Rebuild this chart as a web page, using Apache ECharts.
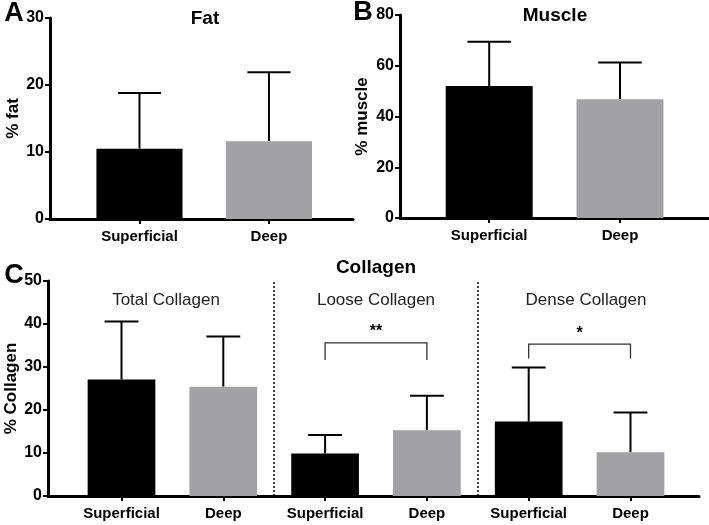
<!DOCTYPE html>
<html>
<head>
<meta charset="utf-8">
<script src="https://cdn.jsdelivr.net/npm/echarts@6/dist/echarts.min.js"></script>
<style>html,body{margin:0;padding:0;background:#fff;}#c{width:709px;height:525px;}</style>
</head>
<body>
<div id="c"></div>
<script>
// ---- data ----
const categories = ['Superficial', 'Deep'];
const fatMean = [10.5, 11.6];
const fatSD = [8.3, 10.3];
const muscleMean = [52.0, 46.8];
const muscleSD = [17.5, 14.5];
const collagenGroups = ['Total Collagen', 'Loose Collagen', 'Dense Collagen'];
const collagenCategories = ['Superficial', 'Deep', 'Superficial', 'Deep', 'Superficial', 'Deep'];
const collagenMean = [27.1, 25.4, 9.9, 15.3, 17.3, 10.2];
const collagenSD = [13.5, 11.7, 4.3, 8.0, 12.6, 9.2];
const fatTicks = [0, 10, 20, 30];
const muscleTicks = [0, 20, 40, 60, 80];
const collagenTicks = [0, 10, 20, 30, 40, 50];
// significance brackets: [fromIndex, toIndex, topValue, legValue, label]
const sigBrackets = [[2, 3, 35.6, 31.6, '**'], [4, 5, 35.3, 32.0, '*']];

// ---- styles ----
const FONT = "'Liberation Sans', Arial, Helvetica, sans-serif";
const palette = ['#000000', '#a2a2a6'];
const BAR_FRAC = 0.665;

function barItem(params, api) {
  const x = api.value(0), m = api.value(1), sd = api.value(2);
  const base = api.coord([x, 0]);
  const top = api.coord([x, m]);
  const err = api.coord([x, m + sd]);
  const w = api.size([BAR_FRAC, 0])[0];
  const color = palette[params.dataIndex % 2];
  return {
    type: 'group',
    children: [
      { type: 'line', z2: 1, shape: { x1: top[0], y1: top[1], x2: top[0], y2: err[1] }, style: { stroke: '#000', lineWidth: 2 } },
      { type: 'line', z2: 1, shape: { x1: top[0] - w / 4, y1: err[1], x2: top[0] + w / 4, y2: err[1] }, style: { stroke: '#000', lineWidth: 2 } },
      { type: 'rect', z2: 2, shape: { x: base[0] - w / 2, y: top[1], width: w, height: base[1] - top[1] }, style: { fill: color } }
    ]
  };
}

function bracketItem(params, api) {
  const a = api.value(0), b = api.value(1), t = api.value(2), l = api.value(3);
  const p1 = api.coord([a, l]), p2 = api.coord([a, t]), p3 = api.coord([b, t]), p4 = api.coord([b, l]);
  return {
    type: 'group',
    children: [
      { type: 'polyline', shape: { points: [p1, p2, p3, p4] }, style: { stroke: '#333', lineWidth: 1.3, fill: null } },
      { type: 'text', x: (p2[0] + p3[0]) / 2, y: p2[1] - 3,
        style: { text: sigBrackets[params.dataIndex][4], font: 'bold 16px ' + FONT, fill: '#000', align: 'center', verticalAlign: 'bottom', textAlign: 'center', textVerticalAlign: 'bottom' } }
    ]
  };
}

function yAxisCfg(gi, ticks, name, gap) {
  return {
    type: 'value', gridIndex: gi, min: ticks[0], max: ticks[ticks.length - 1],
    interval: ticks[1] - ticks[0],
    name: name, nameLocation: 'middle', nameGap: gap, nameRotate: 90, nameMoveOverlap: false,
    nameTextStyle: { fontFamily: FONT, fontWeight: 'bold', fontSize: 17, color: '#000' },
    axisLine: { show: true, onZero: false, lineStyle: { color: '#000', width: 3 } },
    axisTick: { show: true, length: 5, lineStyle: { color: '#000', width: 2 } },
    axisLabel: { fontFamily: FONT, fontWeight: 'bold', fontSize: 16, color: '#000', margin: 6 },
    splitLine: { show: false }
  };
}
function xAxisCfg(gi, cats, min, max) {
  const idx = cats.map((c, i) => i);
  return {
    type: 'value', gridIndex: gi, min: min, max: max,
    axisLine: { show: true, onZero: false, lineStyle: { color: '#000', width: 3 } },
    axisTick: { show: true, customValues: idx, length: 5, lineStyle: { color: '#000', width: 2 } },
    axisLabel: { customValues: idx, formatter: v => cats[Math.round(v)], fontFamily: FONT, fontWeight: 'bold', fontSize: 15, color: '#000', margin: 10 },
    splitLine: { show: false }
  };
}

const txt = (t, x, y, size, weight, color) => ({
  type: 'text', x: x, y: y, z: 100,
  style: { text: t, font: weight + ' ' + size + 'px ' + FONT, fill: color || '#000', align: 'center', verticalAlign: 'middle', textAlign: 'center', textVerticalAlign: 'middle' }
});

const chart = echarts.init(document.getElementById('c'));
chart.setOption({
  animation: false,
  backgroundColor: '#fff',
  grid: [
    { left: 50, top: 18, width: 303, height: 201, containLabel: false, outerBoundsMode: 'none' },
    { left: 400, top: 15, width: 308, height: 203, containLabel: false, outerBoundsMode: 'none' },
    { left: 48, top: 281, width: 651, height: 215, containLabel: false, outerBoundsMode: 'none' }
  ],
  xAxis: [
    xAxisCfg(0, categories, -0.691, 1.649),
    xAxisCfg(1, categories, -0.682, 1.673),
    xAxisCfg(2, collagenCategories, -0.722, 5.673)
  ],
  yAxis: [
    yAxisCfg(0, fatTicks, '% fat', 28),
    yAxisCfg(1, muscleTicks, '% muscle', 29),
    yAxisCfg(2, collagenTicks, '% Collagen', 28)
  ],
  graphic: [
    txt('A', 14, 14, 27, 'bold'),
    txt('B', 363, 13, 27, 'bold'),
    txt('C', 14, 276, 27, 'bold'),
    txt('Fat', 205, 19, 19, 'bold'),
    txt('Muscle', 555, 16, 19, 'bold'),
    txt('Collagen', 376, 268, 19, 'bold'),
    txt(collagenGroups[0], 166, 300, 17, 'normal', '#222'),
    txt(collagenGroups[1], 376, 300, 17, 'normal', '#222'),
    txt(collagenGroups[2], 586, 300, 17, 'normal', '#222')
  ],
  series: [
    { type: 'custom', xAxisIndex: 0, yAxisIndex: 0, renderItem: barItem, encode: { x: 0, y: 1 },
      data: categories.map((c, i) => [i, fatMean[i], fatSD[i]]) },
    { type: 'custom', xAxisIndex: 1, yAxisIndex: 1, renderItem: barItem, encode: { x: 0, y: 1 },
      data: categories.map((c, i) => [i, muscleMean[i], muscleSD[i]]) },
    { type: 'custom', xAxisIndex: 2, yAxisIndex: 2, renderItem: barItem, encode: { x: 0, y: 1 },
      data: collagenCategories.map((c, i) => [i, collagenMean[i], collagenSD[i]]) },
    { type: 'custom', xAxisIndex: 2, yAxisIndex: 2, renderItem: bracketItem, encode: { x: [0, 1], y: [2, 3] },
      data: sigBrackets.map(b => [b[0], b[1], b[2], b[3]]),
      markLine: { silent: true, symbol: ['none', 'none'], label: { show: false },
        lineStyle: { color: '#000', type: [2, 2], width: 1.5 },
        data: [{ xAxis: 1.5 }, { xAxis: 3.5 }] } }
  ]
});
</script>
</body>
</html>
